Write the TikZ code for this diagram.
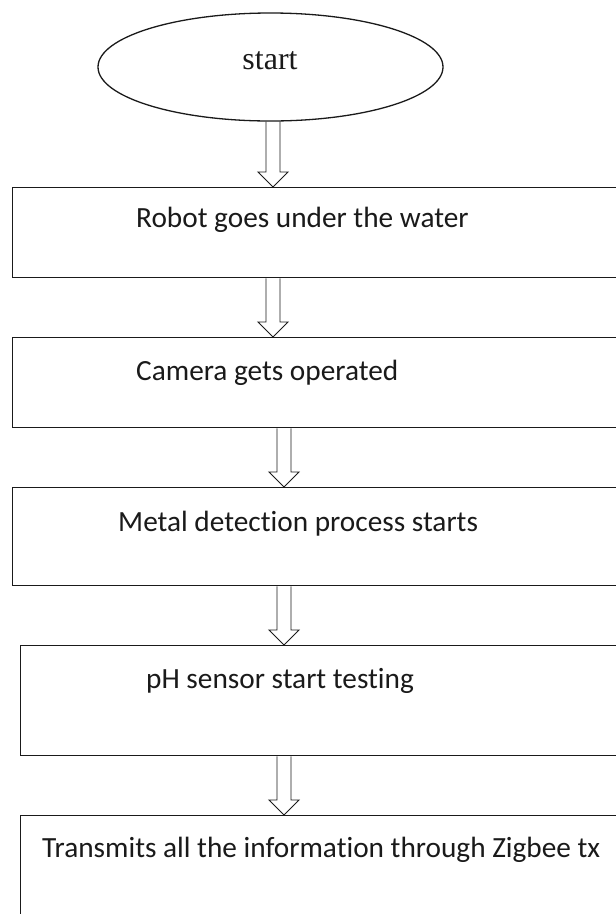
\documentclass[tikz,border=0pt]{standalone}
\usepackage{fontspec}
\setmainfont[Ligatures=NoCommon]{Carlito}
\newfontfamily\startfont{Liberation Serif}
\usetikzlibrary{shapes.geometric,calc}
\definecolor{ink}{HTML}{1A1A1A}
\tikzset{
  x=1pt, y=-1pt,
  stepbox/.style={draw=ink, line width=1.4pt, minimum width=640pt, minimum height=#1, anchor=north west, inner sep=0pt},
  steptext/.style={anchor=west, inner sep=0pt, text=ink, font=\fontsize{29.3}{34}\selectfont},
  blockarrow/.style={draw=ink, line width=0.9pt, line join=miter,
    to path={let \p1=(\tikztostart), \p2=(\tikztotarget) in
      (\x1-7pt,\y1) -- (\x1-7pt,\y2+15pt) -- (\x1-15pt,\y2+15pt) -- (\x1,\y2)
      -- (\x1+15pt,\y2+15pt) -- (\x1+7pt,\y2+15pt) -- (\x1+7pt,\y1)}},
}
\begin{document}
\begin{tikzpicture}
\useasboundingbox (0,0) rectangle (616,914);
\clip (0,0) rectangle (616,914);
\fill[white] (0,0) rectangle (616,914);
% start
\node[ellipse, draw=ink, line width=1.3pt, minimum width=345pt, minimum height=108pt, inner sep=0pt] (e) at (270.5,67) {};
\node[inner sep=0pt, text=ink, font={\startfont\fontsize{32}{36}\selectfont}] (st) at (270,61) {start};
% boxes
\node[stepbox=90pt] (b1) at (12,187) {};
\node[steptext] (t1) at (136,220) {Robot goes under the water};
\node[stepbox=90pt] (b2) at (12,337) {};
\node[steptext] (t2) at (136,373) {Camera gets operated};
\node[stepbox=98pt] (b3) at (12,487) {};
\node[steptext] (t3) at (118,524) {Metal detection process starts};
\node[stepbox=110pt] (b4) at (20,645) {};
\node[steptext] (t4) at (146,681) {pH sensor start testing};
\node[stepbox=140pt] (b5) at (20,815) {};
\node[steptext] (t5) at (42,850) {Transmits all the information through Zigbee tx};
% arrow axes
\coordinate (ca) at (273,0);
\coordinate (cb) at (284,0);
\draw[blockarrow] (e.south -| ca) to (b1.north -| ca);
\draw[blockarrow] (b1.south -| ca) to (b2.north -| ca);
\draw[blockarrow] (b2.south -| cb) to (b3.north -| cb);
\draw[blockarrow] (b3.south -| cb) to (b4.north -| cb);
\draw[blockarrow] (b4.south -| cb) to (b5.north -| cb);
\end{tikzpicture}
\end{document}
